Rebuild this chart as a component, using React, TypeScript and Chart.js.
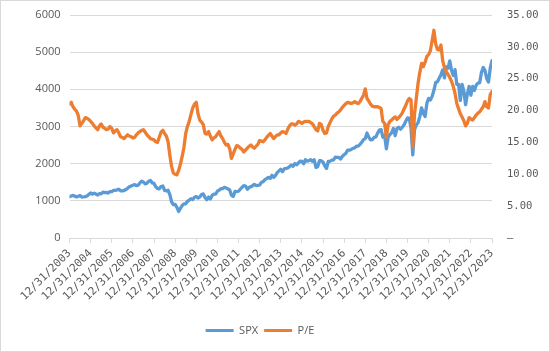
import { useEffect, useRef } from 'react';
import { Chart, registerables } from 'chart.js';

Chart.register(...registerables);

// Month-end observations, first entry = 12/31/2003, then Jan 2004 ... Dec 2023
const firstYear = 2003;
const yearCount = 20;

const spx = [
  1112,
  1131, 1145, 1126, 1107, 1121, 1141, 1101, 1104, 1115, 1130, 1174, 1212,
  1181, 1204, 1181, 1157, 1192, 1191, 1234, 1220, 1229, 1207, 1249, 1248,
  1280, 1281, 1295, 1311, 1270, 1270, 1277, 1304, 1336, 1378, 1401, 1418,
  1438, 1407, 1421, 1482, 1531, 1503, 1455, 1474, 1527, 1549, 1481, 1468,
  1379, 1331, 1323, 1386, 1400, 1280, 1267, 1283, 1166, 969, 896, 903,
  826, 715, 798, 873, 919, 919, 987, 1021, 1057, 1036, 1096, 1115,
  1074, 1104, 1169, 1187, 1089, 1031, 1102, 1049, 1141, 1183, 1181, 1258,
  1286, 1327, 1326, 1364, 1345, 1321, 1292, 1150, 1120, 1253, 1247, 1258,
  1312, 1366, 1408, 1398, 1310, 1362, 1379, 1407, 1441, 1412, 1416, 1426,
  1498, 1515, 1569, 1598, 1631, 1606, 1686, 1633, 1682, 1757, 1806, 1848,
  1783, 1859, 1872, 1884, 1924, 1960, 1931, 2003, 1972, 2018, 2068, 2059,
  1995, 2105, 2068, 2086, 2107, 2063, 2104, 1900, 1920, 2079, 2080, 2044,
  1940, 1870, 2060, 2065, 2097, 2099, 2174, 2171, 2168, 2126, 2199, 2239,
  2279, 2364, 2363, 2384, 2412, 2423, 2470, 2472, 2519, 2575, 2648, 2674,
  2824, 2714, 2641, 2648, 2705, 2718, 2816, 2902, 2914, 2712, 2760, 2400,
  2704, 2784, 2834, 2946, 2752, 2942, 2980, 2926, 2977, 3038, 3141, 3231,
  3226, 2954, 2237, 2912, 3044, 3100, 3271, 3500, 3363, 3270, 3622, 3756,
  3714, 3811, 3973, 4181, 4204, 4298, 4395, 4523, 4308, 4605, 4567, 4766,
  4516, 4374, 4530, 4132, 4132, 3700, 4130, 3955, 3586, 3872, 4080, 3840,
  4077, 3970, 4109, 4169, 4180, 4450, 4589, 4508, 4288, 4194, 4568, 4770,
];

const pe = [
  21.0,
  21.3, 20.6, 20.2, 19.9, 19.2, 17.6, 18.0, 18.4, 18.9, 18.8, 18.6, 18.3,
  18.0, 17.6, 17.3, 17.0, 17.6, 17.9, 17.4, 17.2, 17.0, 17.1, 17.5, 17.2,
  16.5, 16.8, 17.0, 16.5, 15.9, 15.8, 15.6, 15.9, 16.2, 16.0, 15.9, 15.7,
  15.8, 16.2, 16.5, 16.7, 16.9, 17.0, 16.6, 16.2, 15.9, 15.6, 15.5, 15.4,
  15.1, 15.0, 15.8, 16.6, 16.9, 16.4, 16.0, 15.1, 13.0, 11.2, 10.2, 10.0,
  9.9, 10.6, 11.6, 12.8, 14.2, 16.4, 17.5, 18.3, 19.4, 20.4, 21.0, 21.3,
  19.5, 18.5, 18.2, 17.8, 16.4, 16.3, 16.7, 16.0, 15.4, 15.7, 15.9, 16.3,
  16.7, 16.0, 15.6, 15.0, 14.6, 14.7, 14.0, 12.5, 13.2, 13.9, 14.5, 14.4,
  14.1, 13.9, 13.5, 13.8, 14.1, 14.4, 14.6, 14.3, 14.1, 14.4, 14.7, 15.3,
  15.2, 15.1, 15.4, 15.8, 16.1, 16.4, 16.0, 15.6, 15.9, 16.2, 16.2, 16.5,
  16.7, 16.6, 16.4, 17.1, 17.6, 17.9, 17.9, 17.7, 17.9, 18.3, 18.2, 18.0,
  18.2, 18.3, 18.3, 18.3, 18.1, 17.9, 17.5, 17.0, 16.8, 18.0, 17.8, 16.9,
  16.4, 16.5, 17.5, 18.1, 18.7, 19.1, 19.3, 19.6, 19.8, 20.1, 20.5, 20.8,
  21.1, 21.3, 21.2, 21.1, 21.2, 21.4, 21.2, 21.1, 21.4, 21.9, 22.4, 23.4,
  21.9, 21.5, 21.0, 20.7, 20.6, 20.6, 20.6, 20.5, 20.3, 18.3, 18.0, 15.8,
  17.8, 18.3, 18.5, 18.8, 19.0, 18.6, 18.9, 19.2, 19.6, 20.2, 20.8, 21.5,
  21.9, 21.7, 14.3, 19.5, 21.9, 24.3, 26.0, 27.4, 26.9, 27.6, 28.5, 28.8,
  29.4, 31.0, 32.6, 30.5, 29.6, 29.5, 30.3, 27.8, 26.8, 26.1, 25.7, 25.2,
  24.6, 23.8, 22.7, 21.1, 20.3, 19.5, 19.0, 18.4, 17.6, 18.0, 18.9, 18.7,
  18.5, 18.9, 19.3, 19.6, 19.8, 20.2, 20.6, 21.4, 20.6, 20.4, 22.5, 23.0,
];

const GRID = '#D9D9D9';
const TEXT = '#595959';

// nudges the bottom legend a little to the left, as in the source chart
const legendShift = {
  id: 'legendShift',
  afterLayout(chart: any) {
    const lg = chart.legend;
    if (lg) {
      lg.left -= 15;
      lg.right -= 15;
    }
  },
};

const noPad = (s: any) => {
  s.paddingTop = 0;
  s.paddingBottom = 0;
  s.paddingLeft = 0;
  s.paddingRight = 0;
};

export default function App() {
  const ref = useRef<HTMLCanvasElement | null>(null);

  useEffect(() => {
    if (!ref.current) return;
    const toPoints = (arr: number[]) => arr.map((v, i) => ({ x: i / 12, y: v }));
    const chart = new Chart(ref.current, {
      type: 'line',
      data: {
        datasets: [
          {
            label: 'SPX',
            data: toPoints(spx),
            borderColor: '#5B9BD5',
            backgroundColor: '#5B9BD5',
            borderWidth: 3.3,
            pointRadius: 0,
            borderJoinStyle: 'round',
            borderCapStyle: 'round',
            yAxisID: 'y',
            order: 1,
          },
          {
            label: 'P/E',
            data: toPoints(pe),
            borderColor: '#ED7D31',
            backgroundColor: '#ED7D31',
            borderWidth: 3.3,
            pointRadius: 0,
            borderJoinStyle: 'round',
            borderCapStyle: 'round',
            yAxisID: 'y1',
            order: 0,
          },
        ],
      },
      plugins: [legendShift],
      options: {
        animation: false,
        responsive: true,
        maintainAspectRatio: false,
        layout: { padding: { top: 14, bottom: 5, right: 0, left: 0 } },
        plugins: {
          tooltip: { enabled: false },
          legend: {
            position: 'bottom',
            labels: {
              boxWidth: 28,
              boxHeight: 3,
              padding: 6,
              color: TEXT,
              font: { family: 'Open Sans', size: 11 },
              sort: (a: any, b: any) => a.datasetIndex - b.datasetIndex,
              generateLabels: (c: any) =>
                (Chart.defaults.plugins.legend.labels.generateLabels as any)(c).map((l: any) => ({
                  ...l,
                  lineWidth: 0,
                })),
            },
          },
        },
        scales: {
          x: {
            type: 'linear',
            min: 0,
            max: yearCount,
            afterFit: (s: any) => { s.height = 81; noPad(s); },
            grid: { drawOnChartArea: false, drawTicks: true, tickLength: 5, color: GRID },
            border: { color: GRID },
            ticks: {
              stepSize: 1,
              autoSkip: false,
              minRotation: 45,
              maxRotation: 45,
              padding: 4,
              color: TEXT,
              font: { family: 'DejaVu Sans Mono', size: 11 },
              callback: (v: any) => `12/31/${firstYear + Number(v)}`,
            },
          },
          y: {
            position: 'left',
            min: 0,
            max: 6000,
            afterFit: (s: any) => { s.width = 68.5; noPad(s); },
            grid: { color: GRID, drawTicks: false },
            border: { display: false },
            ticks: {
              stepSize: 1000,
              padding: 9,
              color: TEXT,
              font: { family: 'Open Sans', size: 11 },
              callback: (v: any) => String(v),
            },
          },
          y1: {
            position: 'right',
            min: 0,
            max: 35,
            afterFit: (s: any) => { s.width = 57; noPad(s); },
            grid: { drawOnChartArea: false, drawTicks: false },
            border: { display: false },
            ticks: {
              stepSize: 5,
              padding: 15,
              color: TEXT,
              font: { family: 'DejaVu Sans Mono', size: 10.5 },
              callback: (v: any) => (Number(v) === 0 ? '–' : Number(v).toFixed(2)),
            },
          },
        },
      },
    });
    return () => chart.destroy();
  }, []);

  return (
    <div
      style={{
        position: 'fixed',
        left: 0,
        top: 0,
        width: 550,
        height: 352,
        boxSizing: 'border-box',
        border: '1px solid #D9D9D9',
        background: '#ffffff',
      }}
    >
      <div style={{ position: 'relative', width: 548, height: 350 }}>
        <canvas ref={ref} />
      </div>
    </div>
  );
}
